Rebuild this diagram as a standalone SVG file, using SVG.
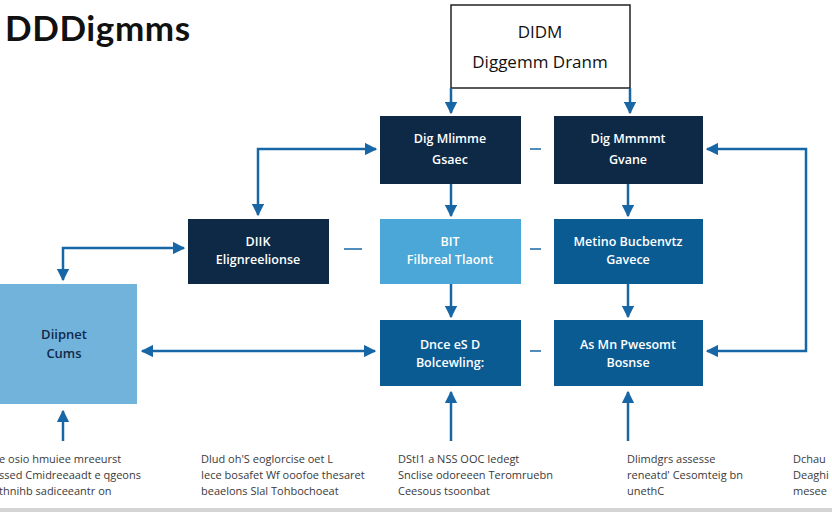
<svg xmlns="http://www.w3.org/2000/svg" width="832" height="512" viewBox="0 0 832 512">
<defs>
<marker id="ah" viewBox="0 0 10 10" refX="9" refY="5" markerWidth="5" markerHeight="5" orient="auto-start-reverse" markerUnits="strokeWidth">
<path d="M0,0 L10,5 L0,10 Z" fill="#1767a6"/>
</marker>
<style>
.navy{fill:#0e2946}
.mid{fill:#0b5b93}
.lt{fill:#4aa7d7}
.lt2{fill:#72b3dc}
.nt{font-family:"Open Sans","Liberation Sans",sans-serif;font-size:12.5px;font-weight:600;fill:#ffffff;text-anchor:middle}
.dt{font-family:"Open Sans","Liberation Sans",sans-serif;font-size:13px;font-weight:600;fill:#10294a;text-anchor:middle}
.cap{font-family:"Open Sans","Liberation Sans",sans-serif;font-size:11px;fill:#3a3a3a}
.ln{fill:none;stroke:#1767a6;stroke-width:2.5}
.dash{stroke:#1767a6;stroke-width:1.5}
</style>
</defs>
<rect width="832" height="512" fill="#ffffff"/>
<text x="5" y="41" font-family="Lato,'Open Sans','Liberation Sans',sans-serif" font-size="35" font-weight="700" letter-spacing="0.6" fill="#111111">DDDigmms</text>

<g id="top">
<rect x="451" y="5" width="179" height="83" fill="#ffffff" stroke="#222222" stroke-width="1.5"/>
<text x="540" y="38" font-family="'Open Sans','Liberation Sans',sans-serif" font-size="17" fill="#111111" text-anchor="middle">DIDM</text>
<text x="540" y="68" font-family="'Open Sans','Liberation Sans',sans-serif" font-size="17" fill="#111111" text-anchor="middle">Diggemm Dranm</text>
</g>
<g id="nA"><rect class="navy" x="380" y="116" width="141" height="68"/>
<text class="nt" x="450" y="143">Dig Mlimme</text><text class="nt" x="450" y="164">Gsaec</text></g>
<g id="nB"><rect class="navy" x="554" y="116" width="149" height="68"/>
<text class="nt" x="628" y="143">Dig Mmmmt</text><text class="nt" x="628" y="164">Gvane</text></g>
<g id="nC"><rect class="navy" x="188" y="219" width="141" height="65"/>
<text class="nt" x="258" y="246">DIIK</text><text class="nt" x="258" y="264">Elignreelionse</text></g>
<g id="nD"><rect class="lt" x="380" y="219" width="141" height="65"/>
<text class="nt" x="450" y="246">BIT</text><text class="nt" x="450" y="264">Filbreal Tlaont</text></g>
<g id="nE"><rect class="mid" x="554" y="219" width="149" height="65"/>
<text class="nt" x="628" y="246">Metino Bucbenvtz</text><text class="nt" x="628" y="264">Gavece</text></g>
<g id="nF"><rect class="lt2" x="0" y="284" width="137" height="120"/>
<text class="dt" x="64" y="339">Diipnet</text><text class="dt" x="64" y="358">Cums</text></g>
<g id="nG"><rect class="mid" x="380" y="320" width="141" height="66"/>
<text class="nt" x="450" y="349">Dnce eS D</text><text class="nt" x="450" y="367">Bolcewling:</text></g>
<g id="nH"><rect class="mid" x="554" y="320" width="149" height="66"/>
<text class="nt" x="628" y="349">As Mn Pwesomt</text><text class="nt" x="628" y="367">Bosnse</text></g>

<g id="connectors">
<line class="ln" x1="451" y1="88" x2="451" y2="113" marker-end="url(#ah)"/>
<line class="ln" x1="630" y1="88" x2="630" y2="113" marker-end="url(#ah)"/>
<polyline class="ln" points="258,215 258,149 376,149" marker-start="url(#ah)" marker-end="url(#ah)"/>
<polyline class="ln" points="184,248 63,248 63,280" marker-start="url(#ah)" marker-end="url(#ah)"/>
<line class="ln" x1="142" y1="351" x2="375" y2="351" marker-start="url(#ah)" marker-end="url(#ah)"/>
<line class="ln" x1="451" y1="184" x2="451" y2="216" marker-end="url(#ah)"/>
<line class="ln" x1="628" y1="184" x2="628" y2="216" marker-end="url(#ah)"/>
<line class="ln" x1="451" y1="284" x2="451" y2="317" marker-end="url(#ah)"/>
<line class="ln" x1="628" y1="284" x2="628" y2="317" marker-end="url(#ah)"/>
<polyline class="ln" points="707,351 806,351 806,149 707,149" marker-start="url(#ah)" marker-end="url(#ah)"/>
<line class="ln" x1="63" y1="441" x2="63" y2="411" marker-end="url(#ah)"/>
<line class="ln" x1="451" y1="441" x2="451" y2="392" marker-end="url(#ah)"/>
<line class="ln" x1="628" y1="441" x2="628" y2="392" marker-end="url(#ah)"/>
<line class="dash" x1="530" y1="149" x2="541" y2="149"/>
<line class="dash" x1="344" y1="249" x2="362" y2="249"/>
<line class="dash" x1="530" y1="249" x2="541" y2="249"/>
<line class="dash" x1="530" y1="351" x2="541" y2="351"/>
</g>

<g id="captions">
<text class="cap" x="-1" y="463">e osio hmuiee  mreeurst</text>
<text class="cap" x="-1" y="479">ssed Cmidreeaadt e  qgeons</text>
<text class="cap" x="-1" y="495">thnihb sadiceeantr on</text>
<text class="cap" x="201" y="463">Dlud oh'S eoglorcise oet L</text>
<text class="cap" x="201" y="479">Iece bosafet Wf ooofoe thesaret</text>
<text class="cap" x="201" y="495">beaelons  Slal Tohbochoeat</text>
<text class="cap" x="398" y="463">DStI1 a NSS  OOC  Iedegt</text>
<text class="cap" x="398" y="479">Snclise odoreeen  Teromruebn</text>
<text class="cap" x="398" y="495">Ceesous  tsoonbat</text>
<text class="cap" x="627" y="463">Dlimdgrs assesse</text>
<text class="cap" x="627" y="479">reneatd'  Cesomteig bn</text>
<text class="cap" x="627" y="495">unethC</text>
<text class="cap" x="793" y="463">Dchau</text>
<text class="cap" x="793" y="479">Deaghi</text>
<text class="cap" x="793" y="495">mesee</text>
</g>
<rect x="0" y="508" width="832" height="4" fill="#d4d4d4"/>
</svg>
